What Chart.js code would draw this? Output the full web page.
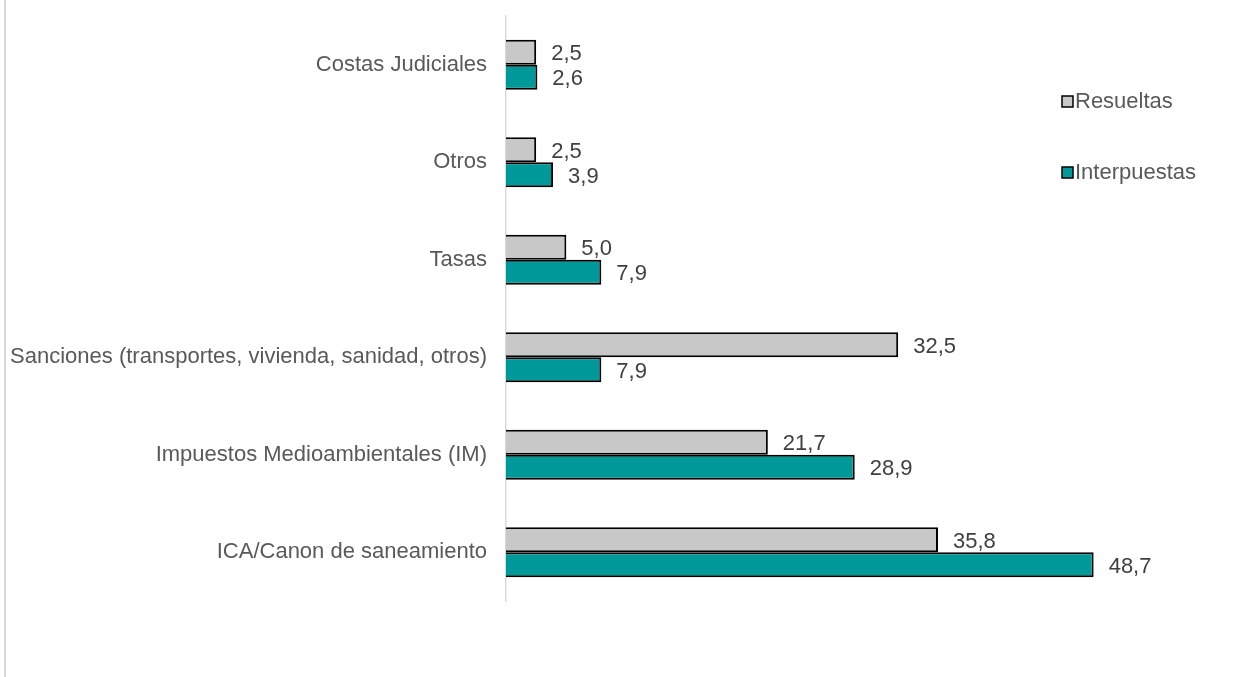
<!DOCTYPE html>
<html>
<head>
<meta charset="utf-8">
<script src="https://cdn.jsdelivr.net/npm/chart.js@4.4.0/dist/chart.umd.min.js"></script>
<style>
  html, body { margin: 0; padding: 0; background: #fff; }
  #wrap { position: relative; width: 1248px; height: 677px; }
  #frame { position: absolute; left: 4px; top: 0; width: 0; height: 677px; border-left: 2px solid #d9d9d9; }
</style>
</head>
<body>
<div id="wrap">
  <div id="frame"></div>
  <canvas id="chart" width="1248" height="677"></canvas>
</div>
<script>
const categories = [
  "Costas Judiciales",
  "Otros",
  "Tasas",
  "Sanciones (transportes, vivienda, sanidad, otros)",
  "Impuestos Medioambientales (IM)",
  "ICA/Canon de saneamiento",
];
const resueltas = [2.5, 2.5, 5.0, 32.5, 21.7, 35.8];
const interpuestas = [2.6, 3.9, 7.9, 7.9, 28.9, 48.7];
const seriesNames = ["Resueltas", "Interpuestas"];

const FONT = "'Liberation Sans', Arial, sans-serif";

// value labels at the end of each bar, decimal comma
const barLabels = {
  id: "barLabels",
  afterDatasetsDraw(chart) {
    const ctx = chart.ctx;
    ctx.save();
    ctx.font = "22px " + FONT;
    ctx.fillStyle = "#404040";
    ctx.textAlign = "left";
    ctx.textBaseline = "middle";
    chart.data.datasets.forEach((ds, i) => {
      chart.getDatasetMeta(i).data.forEach((bar, j) => {
        const txt = ds.data[j].toFixed(1).replace(".", ",");
        ctx.fillText(txt, bar.x + 15, bar.y + 2);
      });
    });
    ctx.restore();
  },
};

// floating legend like the original (sits inside the plot area)
const floatLegend = {
  id: "floatLegend",
  afterDraw(chart) {
    const ctx = chart.ctx;
    const rows = [
      { y: 101, ds: chart.data.datasets[0] },
      { y: 172, ds: chart.data.datasets[1] },
    ];
    ctx.save();
    ctx.font = "22px " + FONT;
    ctx.textBaseline = "middle";
    rows.forEach((r) => {
      ctx.fillStyle = r.ds.backgroundColor;
      ctx.fillRect(1062, r.y - 5, 11, 11);
      ctx.lineWidth = 1.5;
      ctx.strokeStyle = "#000";
      ctx.strokeRect(1062, r.y - 5, 11, 11);
      ctx.fillStyle = "#595959";
      ctx.fillText(r.ds.label, 1075, r.y + 1);
    });
    ctx.restore();
  },
};

new Chart(document.getElementById("chart"), {
  type: "bar",
  data: {
    labels: categories,
    datasets: [
      {
        label: seriesNames[0],
        data: resueltas,
        backgroundColor: "#c8c8c8",
        borderColor: "#000",
        borderWidth: 2,
        borderSkipped: "start",
      },
      {
        label: seriesNames[1],
        data: interpuestas,
        backgroundColor: "#009999",
        borderColor: "#000",
        borderWidth: 2,
        borderSkipped: "start",
      },
    ],
  },
  options: {
    indexAxis: "y",
    responsive: false,
    animation: false,
    devicePixelRatio: 1,
    categoryPercentage: 0.513,
    barPercentage: 1,
    layout: { padding: { top: 16, bottom: 76, left: 0, right: 18 } },
    plugins: {
      legend: { display: false },
      tooltip: { enabled: false },
    },
    scales: {
      x: {
        display: false,
        min: 0,
        max: 60,
      },
      y: {
        afterFit(scale) {
          scale.width = 506;
          scale.paddingTop = 0;
          scale.paddingBottom = 0;
        },
        grid: { display: false, drawTicks: false },
        border: { display: true, color: "#d9d9d9", width: 1.5 },
        ticks: {
          color: "#595959",
          font: { family: FONT, size: 22 },
          padding: 19,
        },
      },
    },
  },
  plugins: [barLabels, floatLegend],
});
</script>
</body>
</html>
